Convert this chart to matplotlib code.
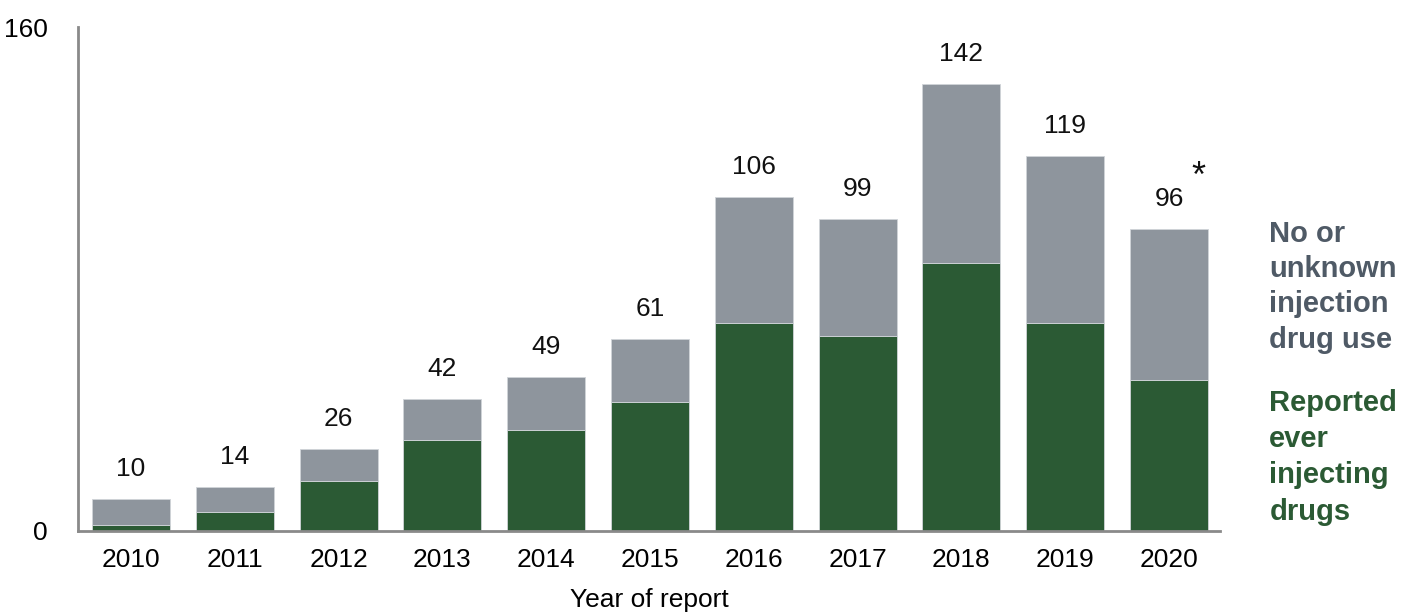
import matplotlib
matplotlib.use("Agg")
import matplotlib.pyplot as plt
import numpy as np

years = ['2010', '2011', '2012', '2013', '2014', '2015', '2016', '2017', '2018', '2019', '2020']
totals = [10, 14, 26, 42, 49, 61, 106, 99, 142, 119, 96]
injecting = [2, 6, 16, 29, 32, 41, 66, 62, 85, 66, 48]
other = [t - i for t, i in zip(totals, injecting)]

GREEN = '#2b5a34'
GREY = '#8e959d'
LABEL_GREY = '#4f5a66'
SPINE = '#8a8a8a'

plt.rcParams['font.family'] = ['Liberation Sans', 'DejaVu Sans']

fig = plt.figure(figsize=(14.01, 6.14), dpi=100)
ax = fig.add_axes([0.0557, 0.1352, 0.815, 0.8208])

x = np.arange(len(years))
ax.bar(x, injecting, width=0.75, color=GREEN, edgecolor='#d0d4d8', linewidth=0.6)
ax.bar(x, other, width=0.75, bottom=injecting, color=GREY, edgecolor='#d0d4d8', linewidth=0.6)

for xi, t in zip(x, totals):
    ax.annotate(str(t), (xi, t), xytext=(0, 13), textcoords='offset points',
                ha='center', va='bottom', fontsize=19, color='#111111')
# footnote marker on the last year
ax.annotate('*', (x[-1], totals[-1]), xytext=(21, 24), textcoords='offset points',
            ha='center', va='bottom', fontsize=26, color='#111111')

ax.set_xlim(-0.51, 10.49)
ax.set_ylim(0, 160)
ax.set_xticks(x)
ax.set_xticklabels(years, fontsize=19)
ax.set_yticks([0, 160])
ax.set_yticklabels(['0', '160'], fontsize=19)
ax.tick_params(axis='x', length=0, pad=12)
ax.tick_params(axis='y', length=0, pad=22)

for side in ['top', 'right']:
    ax.spines[side].set_visible(False)
for side in ['left', 'bottom']:
    ax.spines[side].set_color(SPINE)
    ax.spines[side].set_linewidth(2)

ax.set_xlabel('Year of report', fontsize=19, labelpad=12)

fig.text(0.906, 0.642, 'No or\nunknown\ninjection\ndrug use', fontsize=21,
         fontweight='bold', color=LABEL_GREY, ha='left', va='top', linespacing=1.33)
fig.text(0.906, 0.367, 'Reported\never\ninjecting\ndrugs', fontsize=21,
         fontweight='bold', color=GREEN, ha='left', va='top', linespacing=1.38)

fig.savefig('out.png', dpi=100)
